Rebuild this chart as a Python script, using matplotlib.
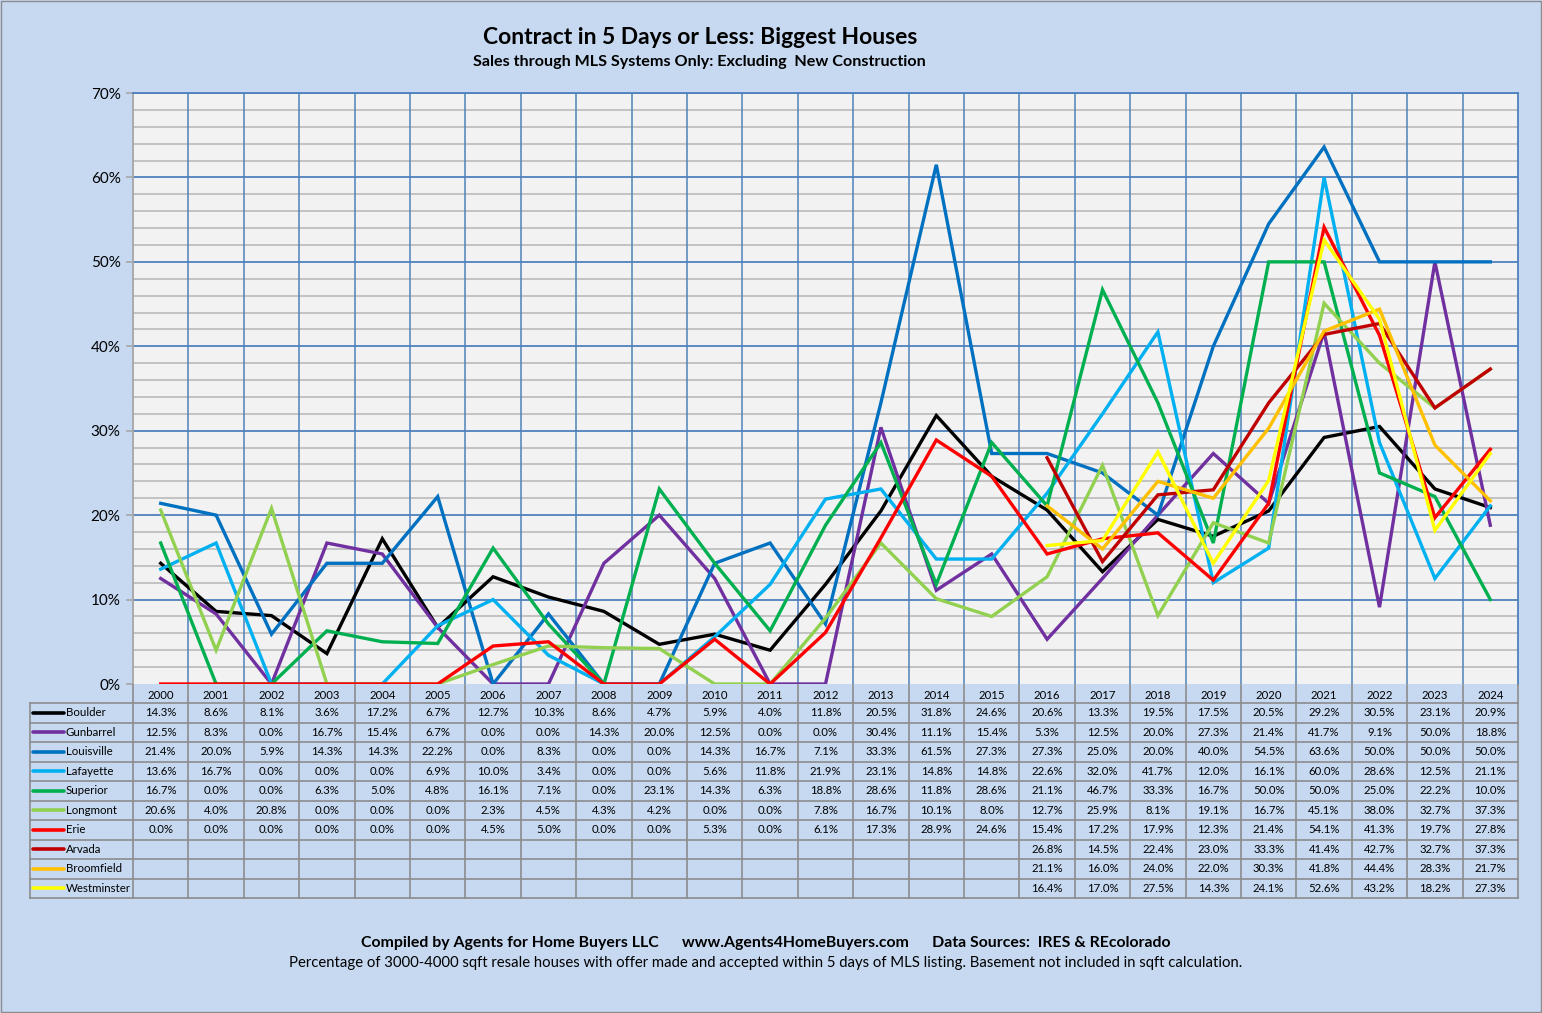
import numpy as np
import matplotlib
matplotlib.use('Agg')
import matplotlib.pyplot as plt

# Data (percent)
years = list(range(2000, 2025))
nan = np.nan

boulder = [14.3, 8.6, 8.1, 3.6, 17.2, 6.7, 12.7, 10.3, 8.6, 4.7, 5.9, 4.0, 11.8,
           20.5, 31.8, 24.6, 20.6, 13.3, 19.5, 17.5, 20.5, 29.2, 30.5, 23.1, 20.9]
gunbarrel = [12.5, 8.3, 0.0, 16.7, 15.4, 6.7, 0.0, 0.0, 14.3, 20.0, 12.5, 0.0, 0.0,
             30.4, 11.1, 15.4, 5.3, 12.5, 20.0, 27.3, 21.4, 41.7, 9.1, 50.0, 18.8]
louisville = [21.4, 20.0, 5.9, 14.3, 14.3, 22.2, 0.0, 8.3, 0.0, 0.0, 14.3, 16.7, 7.1,
              33.3, 61.5, 27.3, 27.3, 25.0, 20.0, 40.0, 54.5, 63.6, 50.0, 50.0, 50.0]
lafayette = [13.6, 16.7, 0.0, 0.0, 0.0, 6.9, 10.0, 3.4, 0.0, 0.0, 5.6, 11.8, 21.9,
             23.1, 14.8, 14.8, 22.6, 32.0, 41.7, 12.0, 16.1, 60.0, 28.6, 12.5, 21.1]
superior = [16.7, 0.0, 0.0, 6.3, 5.0, 4.8, 16.1, 7.1, 0.0, 23.1, 14.3, 6.3, 18.8,
            28.6, 11.8, 28.6, 21.1, 46.7, 33.3, 16.7, 50.0, 50.0, 25.0, 22.2, 10.0]
longmont = [20.6, 4.0, 20.8, 0.0, 0.0, 0.0, 2.3, 4.5, 4.3, 4.2, 0.0, 0.0, 7.8,
            16.7, 10.1, 8.0, 12.7, 25.9, 8.1, 19.1, 16.7, 45.1, 38.0, 32.7, 37.3]
erie = [0.0, 0.0, 0.0, 0.0, 0.0, 0.0, 4.5, 5.0, 0.0, 0.0, 5.3, 0.0, 6.1,
        17.3, 28.9, 24.6, 15.4, 17.2, 17.9, 12.3, 21.4, 54.1, 41.3, 19.7, 27.8]
arvada = [nan] * 16 + [26.8, 14.5, 22.4, 23.0, 33.3, 41.4, 42.7, 32.7, 37.3]
broomfield = [nan] * 16 + [21.1, 16.0, 24.0, 22.0, 30.3, 41.8, 44.4, 28.3, 21.7]
westminster = [nan] * 16 + [16.4, 17.0, 27.5, 14.3, 24.1, 52.6, 43.2, 18.2, 27.3]

names = ['Boulder', 'Gunbarrel', 'Louisville', 'Lafayette', 'Superior',
         'Longmont', 'Erie', 'Arvada', 'Broomfield', 'Westminster']
series = [boulder, gunbarrel, louisville, lafayette, superior,
          longmont, erie, arvada, broomfield, westminster]
colors = ['#000000', '#7030A0', '#0070C0', '#00B0F0', '#00B050',
          '#92D050', '#FF0000', '#C00000', '#FFC000', '#FFFF00']

W, H = 1542, 1013
bg = '#C6D9F1'
plt.rcParams['font.family'] = ['Lato', 'DejaVu Sans']

fig = plt.figure(figsize=(W / 100, H / 100), dpi=100, facecolor=bg)

# --- main plot ---
px_l, px_r, px_t, px_b = 133, 1518, 93, 684
ax = fig.add_axes([px_l / W, 1 - px_b / H, (px_r - px_l) / W, (px_b - px_t) / H])
ax.set_facecolor('#F2F2F2')
x = np.arange(len(years))
ax.set_xlim(-0.5, len(years) - 0.5)
ax.set_ylim(0, 70)

for v in np.arange(2, 70, 2):
    if v % 10:
        ax.axhline(v, color='#BFBFBF', lw=1.3, zorder=1)
for v in range(10, 71, 10):
    ax.axhline(v, color='#4F81BD', lw=1.3, zorder=1.5)
for k in range(1, len(years)):
    ax.axvline(k - 0.5, color='#4F81BD', lw=1.1, zorder=1.5)

for vals, c in zip(series, colors):
    ax.plot(x, vals, color=c, lw=2.4, zorder=3, solid_joinstyle='miter')

ax.set_xticks([])
ax.set_yticks(range(0, 71, 10))
ax.set_yticklabels([f'{v}%' for v in range(0, 71, 10)], fontsize=11)
ax.tick_params(axis='y', length=5, color='#A6A6A6', width=1.2, pad=4)
for s in ['top', 'right']:
    ax.spines[s].set_color('#4F81BD')
    ax.spines[s].set_linewidth(1.3)
ax.spines['left'].set_color('#A6A6A6')
ax.spines['left'].set_linewidth(1.3)
ax.spines['bottom'].set_visible(False)

# --- data table under the chart ---
t_l, t_r, t_t, t_b = 30, 1518, 685, 898
tax = fig.add_axes([t_l / W, 1 - t_b / H, (t_r - t_l) / W, (t_b - t_t) / H])
unit = (len(years)) / (px_r - px_l)
x0 = -0.5 - (px_l - t_l) * unit
tax.set_xlim(x0, len(years) - 0.5)
tax.set_ylim(t_b - t_t, 0)
tax.axis('off')
tax.patch.set_alpha(0)

hdr = 18
rowh = (t_b - t_t - hdr) / len(names)
gcol = '#8C8C8C'
# horizontal lines
for r in range(len(names) + 1):
    yy = hdr + r * rowh
    tax.plot([x0, len(years) - 0.5], [yy, yy], color=gcol, lw=1.2, clip_on=False)
# vertical lines
tax.plot([x0, x0], [hdr, t_b - t_t], color=gcol, lw=1.2, clip_on=False)
for k in range(len(years) + 1):
    tax.plot([k - 0.5, k - 0.5], [0, t_b - t_t], color=gcol, lw=1.2, clip_on=False)

for k, yr in enumerate(years):
    tax.text(k, hdr / 2 + 1, str(yr), ha='center', va='center', fontsize=8.2)

key_w = 31 * unit
for r, (nm, vals, c) in enumerate(zip(names, series, colors)):
    yc = hdr + (r + 0.5) * rowh
    tax.plot([x0 + 3 * unit, x0 + 3 * unit + key_w], [yc, yc], color=c, lw=2.6,
             solid_capstyle='round')
    tax.text(x0 + 36 * unit, yc, nm, ha='left', va='center', fontsize=8.3)
    for k, v in enumerate(vals):
        if not np.isnan(v):
            tax.text(k, yc, f'{v:.1f}%', ha='center', va='center', fontsize=8.2)

# --- titles and footer ---
fig.text(700 / W, 1 - 37 / H, 'Contract in 5 Days or Less: Biggest Houses',
         ha='center', va='center', fontsize=16.5, fontweight='bold')
fig.text(699 / W, 1 - 62 / H, 'Sales through MLS Systems Only: Excluding  New Construction',
         ha='center', va='center', fontsize=11.6, fontweight='bold')
fig.text(766 / W, 1 - 943 / H,
         'Compiled by Agents for Home Buyers LLC      www.Agents4HomeBuyers.com      Data Sources:  IRES & REcolorado',
         ha='center', va='center', fontsize=11.4, fontweight='bold')
fig.text(766 / W, 1 - 963 / H,
         'Percentage of 3000-4000 sqft resale houses with offer made and accepted within 5 days of MLS listing. Basement not included in sqft calculation.',
         ha='center', va='center', fontsize=10.7)

# thin outer border
fig.add_artist(plt.Rectangle((0.0005, 0.0005), 0.999, 0.999, transform=fig.transFigure,
                             fill=False, ec='#8C8C8C', lw=1))

fig.savefig('out.png', dpi=100, facecolor=bg)
